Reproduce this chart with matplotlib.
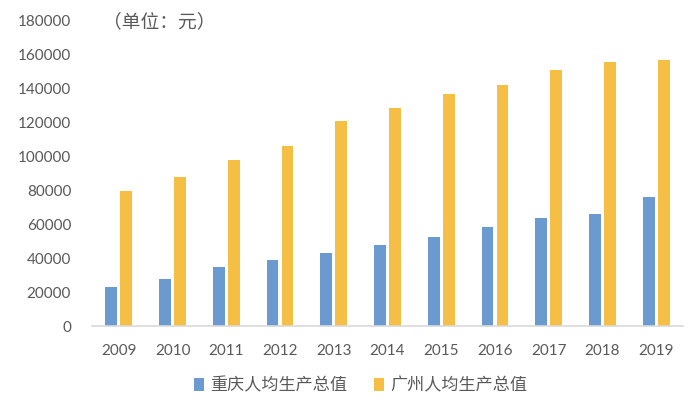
import matplotlib
matplotlib.use("Agg")
import matplotlib.pyplot as plt
import numpy as np

plt.rcParams['font.family'] = ['Lato', 'Noto Sans CJK SC', 'DejaVu Sans']

years = ['2009', '2010', '2011', '2012', '2013', '2014',
         '2015', '2016', '2017', '2018', '2019']
chongqing = [22920, 27596, 34500, 38914, 43223, 47850,
             52321, 58502, 63442, 65933, 75828]
guangzhou = [79383, 87458, 97588, 105909, 120515, 128478,
             136188, 141933, 150678, 155491, 156427]
yticks = [0, 20000, 40000, 60000, 80000, 100000, 120000, 140000, 160000, 180000]

BLUE = '#6A9AD0'
YELLOW = '#F5BF45'
TEXT = '#595959'
CJK = ['Noto Sans CJK SC', 'DejaVu Sans']

fig = plt.figure(figsize=(7, 4.08), dpi=100)
ax = fig.add_axes([92 / 700, 1 - 326 / 408, 591 / 700, 306 / 408])

x = np.arange(len(years))
w = 0.22
ax.bar(x - 0.14, chongqing, w, color=BLUE, label='重庆人均生产总值')
ax.bar(x + 0.14, guangzhou, w, color=YELLOW, label='广州人均生产总值')

ax.set_xlim(-0.5, len(years) - 0.5)
ax.set_ylim(0, 180000)
ax.set_yticks(yticks)
ax.set_yticklabels([str(v) for v in yticks])
ax.set_xticks(x)
ax.set_xticklabels(years)
ax.tick_params(axis='both', length=0, labelsize=11, colors=TEXT)
ax.tick_params(axis='y', pad=15)
ax.tick_params(axis='x', pad=13)

for s in ['top', 'right', 'left']:
    ax.spines[s].set_visible(False)
ax.spines['bottom'].set_color('#D9D9D9')
ax.spines['bottom'].set_linewidth(1.2)

ax.text(0.018, 179000, '（单位：元）', transform=ax.get_yaxis_transform(),
        ha='left', va='center', fontsize=13.5, color=TEXT, family=CJK)

fig.legend(loc='center', bbox_to_anchor=(0.515, 0.056), ncol=2, frameon=False,
           handlelength=0.6, handleheight=0.8, handletextpad=0.35,
           columnspacing=1.6, labelcolor=TEXT,
           prop={'family': CJK, 'size': 12.3})

fig.savefig('out.png', dpi=100)
